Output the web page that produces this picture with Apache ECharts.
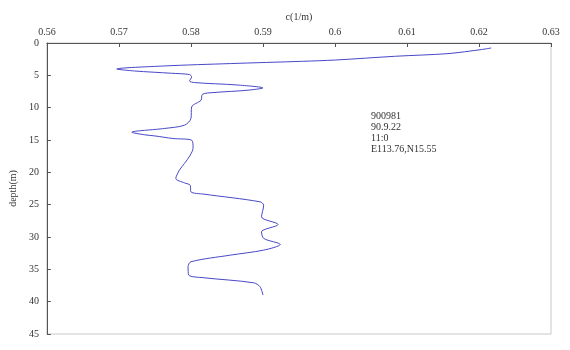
<!DOCTYPE html>
<html>
<head>
<meta charset="utf-8">
<script src="https://cdn.jsdelivr.net/npm/echarts@6/dist/echarts.min.js"></script>
<style>html,body{margin:0;padding:0;background:#fff}#c{width:570px;height:350px}</style>
</head>
<body>
<div id="c"></div>
<script>
var cValues = [0.6217,0.6203,0.6157,0.6084,0.6001,0.5955,0.5855,0.5763,0.5697,0.5722,0.5773,0.5798,0.5801,0.5798,0.5805,0.5864,0.5900,0.5878,0.5832,0.5816,0.5814,0.5801,0.5800,0.5791,0.5763,0.5718,0.5736,0.5750,0.5775,0.5801,0.5803,0.5799,0.5791,0.5784,0.5779,0.5791,0.5799,0.5800,0.5818,0.5896,0.5901,0.5898,0.5921,0.5898,0.5901,0.5924,0.5901,0.5855,0.5800,0.5796,0.5797,0.5818,0.5887,0.5896,0.5900];
var depthValues = [0.77,1.02,1.64,2.05,2.63,2.83,3.18,3.55,4.02,4.33,4.68,4.88,5.25,5.87,6.12,6.49,6.95,7.31,7.66,7.93,8.85,9.89,11.68,12.71,13.22,13.8,14.2,14.37,14.77,15.03,16.2,17.35,18.63,19.66,20.95,21.63,21.99,23.02,23.37,24.56,25.07,26.88,28.06,29.2,30.22,31.15,32.03,32.8,33.83,34.61,35.89,36.3,37.08,37.7,38.98];
var xTicks = [0.56,0.57,0.58,0.59,0.6,0.61,0.62,0.63];
var yTicks = [0,5,10,15,20,25,30,35,40,45];
var xName = 'c(1/m)';
var yName = 'depth(m)';
var noteLines = ['900981','90.9.22','11:0','E113.76,N15.55'];

var FONT = '"Liberation Serif", serif';
var chart = echarts.init(document.getElementById('c'), null, {renderer:'canvas'});
var data = cValues.map(function(c,i){return [c, depthValues[i]];});
chart.setOption({
  animation:false,
  backgroundColor:'#fff',
  grid:{left:41,right:19,top:43,bottom:16,show:true,borderColor:'#c8c8c8',borderWidth:1,containLabel:false},
  xAxis:{
    type:'value',position:'top',
    min:xTicks[0],max:xTicks[xTicks.length-1],interval:0.01,
    name:xName,nameLocation:'middle',nameGap:21,
    nameTextStyle:{fontFamily:FONT,fontSize:10,color:'#333'},
    axisLine:{show:true,lineStyle:{color:'#555',width:1}},
    axisTick:{show:true,inside:true,length:4,lineStyle:{color:'#555'}},
    axisLabel:{fontFamily:FONT,fontSize:10,color:'#333',margin:6,
      formatter:function(v){return String(parseFloat(v.toFixed(2)));}},
    splitLine:{show:false}
  },
  yAxis:{
    type:'value',inverse:true,
    min:yTicks[0],max:yTicks[yTicks.length-1],interval:5,
    name:yName,nameLocation:'middle',nameGap:24,nameRotate:90,
    nameTextStyle:{fontFamily:FONT,fontSize:10,color:'#333'},
    axisLine:{show:true,lineStyle:{color:'#555',width:1}},
    axisTick:{show:true,inside:true,length:4,lineStyle:{color:'#555'}},
    axisLabel:{fontFamily:FONT,fontSize:10,color:'#333',margin:8},
    splitLine:{show:false}
  },
  series:[{
    type:'line',data:data,showSymbol:false,smooth:0.3,
    lineStyle:{color:'#4848c8',width:1},
    clip:true
  }],
  graphic:noteLines.map(function(t,i){
    return {type:'text',left:371,top:111+i*11,style:{text:t,fontFamily:FONT,fontSize:10,fill:'#333'}};
  })
});
</script>
</body>
</html>
